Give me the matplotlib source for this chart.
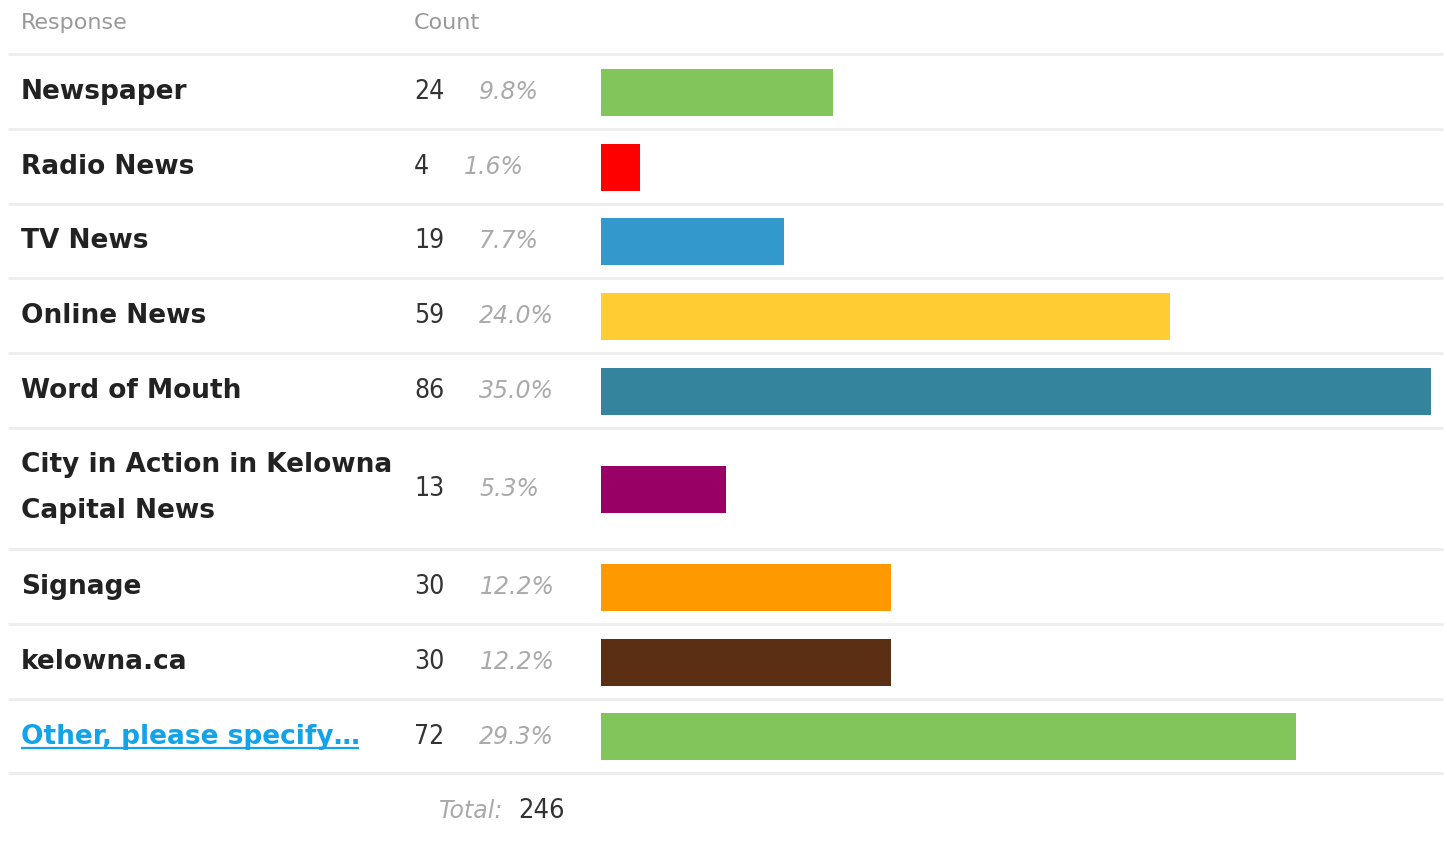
import matplotlib
matplotlib.use("Agg")
import matplotlib.pyplot as plt

responses = ["Newspaper", "Radio News", "TV News", "Online News", "Word of Mouth",
             "City in Action in Kelowna\nCapital News", "Signage", "kelowna.ca",
             "Other, please specify…"]
counts = [24, 4, 19, 59, 86, 13, 30, 30, 72]
percents = ["9.8%", "1.6%", "7.7%", "24.0%", "35.0%", "5.3%", "12.2%", "12.2%", "29.3%"]
total = 246
colors = ["#82c65b", "#ff0000", "#3399cc", "#ffcc33", "#33849c",
          "#990066", "#ff9900", "#5a2f14", "#82c65b"]

W, H = 1447, 846
fig = plt.figure(figsize=(W / 100, H / 100), dpi=100)
fig.patch.set_facecolor("white")

ax = fig.add_axes([0, 0, 1, 1])
ax.set_xlim(0, W)
ax.set_ylim(H, 0)
ax.axis("off")

seps = [54, 129, 204, 278, 353, 428, 549, 624, 699, 773]
for y in seps:
    ax.plot([8, 1443], [y, y], color="#eeeeee", lw=2.2, solid_capstyle="butt", zorder=1)

centers = [(seps[i] + seps[i + 1]) / 2 for i in range(len(responses))]

FAM = "DejaVu Sans"
hdr = dict(color="#999999", fontsize=16, va="baseline", ha="left", family=FAM)
ax.text(21, 29, "Response", **hdr)
ax.text(414, 29, "Count", **hdr)

x0, x1 = 601, 1431
bax = fig.add_axes([x0 / W, 0, (x1 - x0) / W, 1])
bax.set_xlim(0, max(counts))
bax.set_ylim(H, 0)
bax.axis("off")
bax.barh([c + 1 for c in centers], counts, height=47, color=colors, zorder=2)

BL = 7.5  # baseline offset from row centre
lab_kw = dict(fontsize=19, fontweight="bold", va="baseline", ha="left", family=FAM)
for i, (lab, c, p, yc) in enumerate(zip(responses, counts, percents, centers)):
    is_link = i == len(responses) - 1
    col = "#12a3e8" if is_link else "#222222"
    if "\n" in lab:
        l1, l2 = lab.split("\n")
        ax.text(21, yc - 17, l1, color=col, **lab_kw)
        ax.text(21, yc + 30, l2, color=col, **lab_kw)
    else:
        t = ax.text(21, yc + BL, lab, color=col, **lab_kw)
        if is_link:
            fig.canvas.draw()
            bb = t.get_window_extent()
            inv = ax.transData.inverted()
            (lx0, _), (lx1, _) = inv.transform([[bb.x0, bb.y0], [bb.x1, bb.y1]])
            ax.plot([21, lx1 - 1], [yc + 12.5, yc + 12.5], color=col, lw=1.6,
                    solid_capstyle="butt", zorder=3)
    ct = ax.text(414, yc + BL, str(c), fontsize=19, color="#333333", va="baseline",
                 ha="left", family=FAM, fontstretch="condensed")
    ax.annotate(p, xy=(1, yc + BL), xycoords=(ct, "data"), xytext=(35, 0),
                textcoords="offset pixels", fontsize=17, style="italic", color="#aaaaaa",
                va="baseline", ha="left", family=FAM)

ax.text(503, 818.5, "Total:", fontsize=17, style="italic", color="#aaaaaa", va="baseline",
        ha="right", family=FAM)
ax.text(518, 818.5, str(total), fontsize=19.5, color="#333333", va="baseline", ha="left",
        family=FAM, fontstretch="condensed")

fig.savefig("out.png", dpi=100, facecolor="white")
